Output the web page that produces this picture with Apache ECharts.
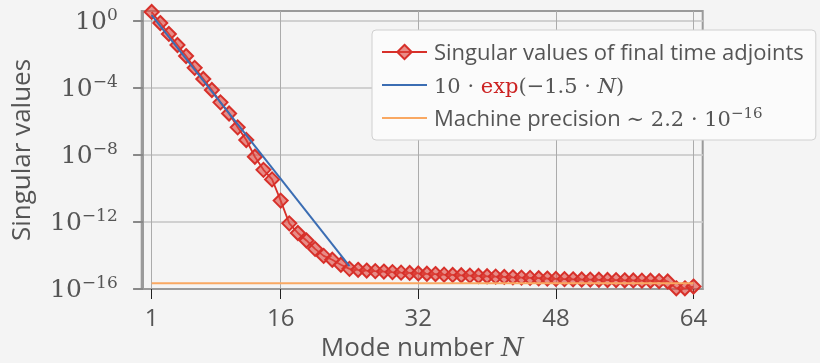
<!DOCTYPE html>
<html><head><meta charset="utf-8">
<script src="https://cdn.jsdelivr.net/npm/echarts@6/dist/echarts.min.js"></script>
<style>html,body{margin:0;padding:0;background:#f4f4f4}#c{width:820px;height:363px}</style>
</head><body><div id="c"></div>
<script>
const modeNumbers = [1,2,3,4,5,6,7,8,9,10,11,12,13,14,15,16,17,18,19,20,21,22,23,24,25,26,27,28,29,30,31,32,
  33,34,35,36,37,38,39,40,41,42,43,44,45,46,47,48,49,50,51,52,53,54,55,56,57,58,59,60,61,62,63,64];
const singularValues = [3.5, 7.6e-1, 1.7e-1, 3.7e-2, 8.1e-3, 1.6e-3, 3.5e-4, 7.6e-5, 1.4e-5, 3.0e-6,
  4.5e-7, 7.9e-8, 7.9e-9, 1.3e-9, 3.5e-10, 1.9e-11, 8.3e-13, 2.2e-13, 7.9e-14, 2.5e-14,
  9.5e-15, 5.6e-15, 2.8e-15, 1.6e-15, 1.4e-15, 1.26e-15, 1.17e-15, 1.1e-15, 1.02e-15, 9.5e-16,
  9.1e-16, 8.5e-16, 8.1e-16, 7.8e-16, 7.2e-16, 6.9e-16, 6.6e-16, 6.3e-16, 6.0e-16, 5.75e-16,
  5.5e-16, 5.25e-16, 5.0e-16, 4.8e-16, 4.6e-16, 4.4e-16, 4.2e-16, 4.0e-16, 3.9e-16, 3.8e-16,
  3.7e-16, 3.65e-16, 3.55e-16, 3.45e-16, 3.4e-16, 3.3e-16, 3.25e-16, 3.15e-16, 3.1e-16, 2.95e-16,
  2.8e-16, 1.1e-16, 1.1e-16, 1.4e-16];
const fitLine = [[1, 2.23], [24, 2.32e-15]];
const machinePrecision = [[1, 2.2e-16], [64, 2.2e-16]];
const xTicks = [1, 16, 32, 48, 64];
const yTicks = [1e-16, 1e-12, 1e-8, 1e-4, 1];

const SANS = 'Open Sans';
const SERIF = 'DejaVu Serif';
const TXT = '#555555';
const RED = '#d7302a';
const LH = 26;

const names = ['Singular values of final time adjoints', 'fit', 'machine'];

const chart = echarts.init(document.getElementById('c'), null, {renderer: 'canvas'});
chart.setOption({
  animation: false,
  backgroundColor: '#f4f4f4',
  grid: {left: 141.7, top: 11, right: 117.3, bottom: 74, show: true, borderColor: '#9a9a9a', borderWidth: 2,
         containLabel: false, outerBoundsMode: 'none'},
  legend: {
    orient: 'vertical', left: 372, top: 30, align: 'left',
    backgroundColor: '#fbfbfb', borderColor: '#d0d0d0', borderWidth: 1, borderRadius: 4,
    padding: [9, 12, 9, 9], itemWidth: 45, itemHeight: 18, itemGap: 7,
    data: [
      {name: names[0]},
      {name: 'fit', itemStyle: {opacity: 0}},
      {name: 'machine', itemStyle: {opacity: 0}}
    ],
    formatter: function (n) {
      if (n === names[0]) return '{t|' + n + '}';
      if (n === 'fit') return '{m|10 · }{r|exp}{m|(−1.5 · }{i|N}{m|)}';
      return '{t|Machine precision }{m|∼ 2.2 · 10}{sup|−16}';
    },
    textStyle: {
      color: TXT, fontSize: 22, fontFamily: SANS, padding: [0, 0, 0, 2], lineHeight: LH,
      rich: {
        t: {fontFamily: SANS, fontSize: 22, color: TXT, verticalAlign: 'bottom', lineHeight: LH},
        m: {fontFamily: SERIF, fontSize: 21, color: TXT, verticalAlign: 'bottom', lineHeight: LH},
        r: {fontFamily: SERIF, fontSize: 21, color: '#cc2222', verticalAlign: 'bottom', lineHeight: LH},
        i: {fontFamily: SERIF, fontSize: 21, fontStyle: 'italic', color: TXT, verticalAlign: 'bottom', lineHeight: LH},
        sup: {fontFamily: SERIF, fontSize: 15, color: TXT, verticalAlign: 'bottom', padding: [0, 0, 9, 0]}
      }
    }
  },
  xAxis: {
    type: 'value', min: -0.16, max: 65.07,
    axisLine: {show: true, onZero: false, lineStyle: {color: '#9a9a9a', width: 2}},
    axisTick: {show: true, customValues: xTicks, length: 10, lineStyle: {color: '#222', width: 1}},
    axisLabel: {customValues: xTicks, fontFamily: SANS, fontSize: 24, color: TXT, margin: 18},
    splitLine: {show: true, lineStyle: {color: '#ababab', width: 1}},
    name: '{s|Mode number }{i|N}', nameLocation: 'middle', nameGap: 45,
    nameTextStyle: {
      rich: {
        s: {fontFamily: SANS, fontSize: 26, color: TXT, verticalAlign: 'bottom'},
        i: {fontFamily: SERIF, fontStyle: 'italic', fontSize: 26, color: TXT, verticalAlign: 'bottom'}
      }
    }
  },
  yAxis: {
    type: 'log', min: 1e-16, max: 3.98, logBase: 10,
    axisLine: {show: true, lineStyle: {color: '#9a9a9a', width: 2}},
    axisTick: {show: true, customValues: yTicks, length: 10, lineStyle: {color: '#888', width: 2}},
    axisLabel: {
      customValues: yTicks, margin: 24,
      formatter: function (v) {
        const e = Math.round(Math.log10(v));
        return '{b|10}{s|' + (e < 0 ? '−' + (-e) : e) + '}';
      },
      rich: {
        b: {fontFamily: SERIF, fontSize: 25, color: TXT, verticalAlign: 'bottom'},
        s: {fontFamily: SERIF, fontSize: 17, color: TXT, verticalAlign: 'bottom', padding: [0, 0, 11, 0]}
      }
    },
    splitLine: {show: true, lineStyle: {color: '#d0d0d0', width: 2}},
    name: 'Singular values', nameLocation: 'middle', nameGap: 106,
    nameTextStyle: {fontFamily: SANS, fontSize: 26, color: TXT}
  },
  series: [
    {
      name: names[0], type: 'line', z: 2, clip: false,
      data: modeNumbers.map((n, i) => [n, singularValues[i]]),
      symbol: 'diamond', symbolSize: 14,
      lineStyle: {color: RED, width: 1.8},
      itemStyle: {color: 'rgba(222,70,62,0.6)', borderColor: RED, borderWidth: 2}
    },
    {
      name: 'fit', type: 'line', z: 3, data: fitLine, symbol: 'none',
      lineStyle: {color: '#3b6db3', width: 2}, itemStyle: {color: '#3b6db3'}
    },
    {
      name: 'machine', type: 'line', z: 4, data: machinePrecision, symbol: 'none',
      lineStyle: {color: '#f9a862', width: 2}, itemStyle: {color: '#f9a862'}
    }
  ]
});
</script></body></html>
